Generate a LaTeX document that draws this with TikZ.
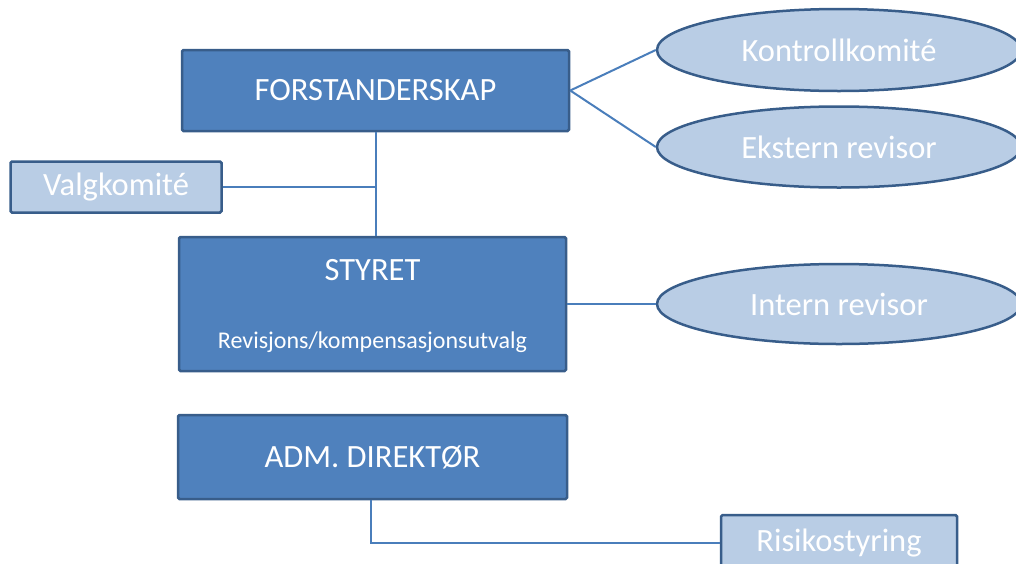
\documentclass[tikz,border=0pt]{standalone}
\usepackage{fontspec}
\setmainfont{Carlito}
\usetikzlibrary{shapes.geometric}
\definecolor{dark}{HTML}{4F81BD}
\definecolor{edge}{HTML}{385D8A}
\definecolor{light}{HTML}{B9CDE5}
\definecolor{conn}{HTML}{4A7EBB}
\tikzset{
  darkbox/.style={rectangle, draw=edge, line width=2.5pt, fill=dark, rounded corners=1.5pt, text=white, font=\fontsize{32.5}{36}\selectfont, inner sep=0pt},
  lightbox/.style={rectangle, draw=edge, line width=2.5pt, fill=light, rounded corners=1.5pt, text=white, font=\fontsize{32.5}{36}\selectfont, inner sep=0pt},
  oval/.style={ellipse, draw=edge, line width=2.5pt, fill=light, text=white, font=\fontsize{32.5}{36}\selectfont, inner sep=0pt},
  conn/.style={draw=conn, line width=2pt},
  lbl/.style={text=white, inner sep=0pt}
}
\begin{document}
\begin{tikzpicture}[x=1pt,y=-1pt]
\useasboundingbox (0,0) rectangle (1016,563);
\clip (0,0) rectangle (1016,563);
\node[darkbox, minimum width=387pt, minimum height=81pt] (forst) at (375.5,90.5) {FORSTANDERSKAP};
\node[oval, minimum width=364pt, minimum height=82pt] (kontroll) at (839,50) {Kontrollkomité};
\node[oval, minimum width=364pt, minimum height=81pt] (ekstern) at (839,147) {Ekstern revisor};
\node[lightbox, minimum width=211pt, minimum height=51pt] (valg) at (116,187) {Valgkomité};
\node[darkbox, minimum width=387pt, minimum height=134pt] (styret) at (372.5,304) {};
\node[lbl, font=\fontsize{32.5}{36}\selectfont] (styrettxt) at (372.5,270) {STYRET};
\node[lbl, font=\fontsize{24}{28}\selectfont] (utvalg) at (372.5,342) {Revisjons/kompensasjonsutvalg};
\node[oval, minimum width=364pt, minimum height=80pt] (intern) at (839,304) {Intern revisor};
\node[darkbox, minimum width=389pt, minimum height=84pt] (adm) at (372.5,457) {ADM. DIREKTØR};
\node[lightbox, minimum width=236pt, minimum height=56pt] (risk) at (839,543) {Risikostyring};
\coordinate (j) at (376,187);
\coordinate (k) at (371,500);
\draw[conn] (forst.east) -- (kontroll.west);
\draw[conn] (forst.east) -- (ekstern.west);
\draw[conn] (forst.south -| j) -- (styret.north -| j);
\draw[conn] (valg.east) -- (j);
\draw[conn] (styret.east) -- (intern.west);
\draw[conn] (adm.south -| k) |- (risk.west);
\end{tikzpicture}
\end{document}
